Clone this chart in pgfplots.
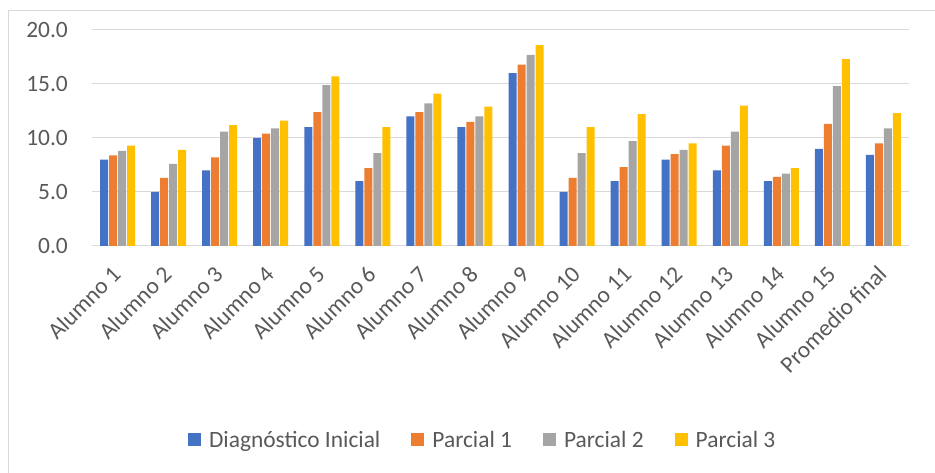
\documentclass[border=0pt]{standalone}
\usepackage{pgfplots}
\pgfplotsset{compat=1.18}
\usepackage{fontspec}
\setmainfont{Carlito}

\definecolor{cBlue}{HTML}{4472C4}
\definecolor{cOrange}{HTML}{ED7D31}
\definecolor{cGray}{HTML}{A5A5A5}
\definecolor{cYellow}{HTML}{FFC000}
\definecolor{cGrid}{HTML}{D9D9D9}
\definecolor{cText}{HTML}{595959}

\begin{document}
\begin{tikzpicture}[x=1bp,y=1bp]
\useasboundingbox (0,0) rectangle (935,473);
\draw[cGrid, line width=1bp] (8,-10) rectangle (950,462);
\begin{axis}[
  at={(92bp,227bp)}, anchor=south west,
  scale only axis, width=817bp, height=216bp,
  xmin=-0.5, xmax=15.5, ymin=0, ymax=20,
  ybar=1bp, bar width=8bp,
  axis line style={draw=none},
  tick style={draw=none},
  ymajorgrids, major grid style={cGrid, line width=1bp},
  ytick={0,5,10,15,20},
  yticklabel style={/pgf/number format/fixed, /pgf/number format/fixed zerofill,
    /pgf/number format/precision=1, /pgf/number format/assume math mode=true,
    inner sep=0pt, xshift=-24bp},
  xtick={0,...,15},
  xticklabels={Alumno 1,Alumno 2,Alumno 3,Alumno 4,Alumno 5,Alumno 6,Alumno 7,Alumno 8,Alumno 9,Alumno 10,Alumno 11,Alumno 12,Alumno 13,Alumno 14,Alumno 15,Promedio final},
  xticklabel style={inner sep=0pt, xshift=-1bp, yshift=-20bp, rotate=45, anchor=east},
  tick label style={font=\fontsize{23.5}{27}\selectfont, text=cText},
  legend columns=4,
  legend style={at={(0.477,-0.898)}, anchor=center, draw=none, fill=none,
    font=\fontsize{23.5}{27}\selectfont, text=cText,
    nodes={inner sep=0pt},
    /tikz/every odd column/.append style={column sep=8bp},
    /tikz/every even column/.append style={column sep=31bp}},
  legend image code/.code={\fill[#1] (0bp,-6.5bp) rectangle (13bp,6.5bp);},
]
\addplot[fill=cBlue, draw=none] coordinates {
(0,8.0) (1,5.0) (2,7.0) (3,10.0) (4,11.0) (5,6.0) (6,12.0) (7,11.0)
(8,16.0) (9,5.0) (10,6.0) (11,8.0) (12,7.0) (13,6.0) (14,9.0) (15,8.43)};
\addplot[fill=cOrange, draw=none] coordinates {
(0,8.4) (1,6.3) (2,8.2) (3,10.4) (4,12.4) (5,7.2) (6,12.4) (7,11.5)
(8,16.8) (9,6.3) (10,7.3) (11,8.5) (12,9.3) (13,6.4) (14,11.3) (15,9.5)};
\addplot[fill=cGray, draw=none] coordinates {
(0,8.8) (1,7.6) (2,10.6) (3,10.9) (4,14.9) (5,8.6) (6,13.2) (7,12.0)
(8,17.7) (9,8.6) (10,9.7) (11,8.9) (12,10.6) (13,6.7) (14,14.8) (15,10.9)};
\addplot[fill=cYellow, draw=none] coordinates {
(0,9.3) (1,8.9) (2,11.2) (3,11.6) (4,15.7) (5,11.0) (6,14.1) (7,12.9)
(8,18.6) (9,11.0) (10,12.2) (11,9.5) (12,13.0) (13,7.2) (14,17.3) (15,12.3)};
\legend{Diagnóstico Inicial, Parcial 1, Parcial 2, Parcial 3}
\end{axis}
\end{tikzpicture}
\end{document}
